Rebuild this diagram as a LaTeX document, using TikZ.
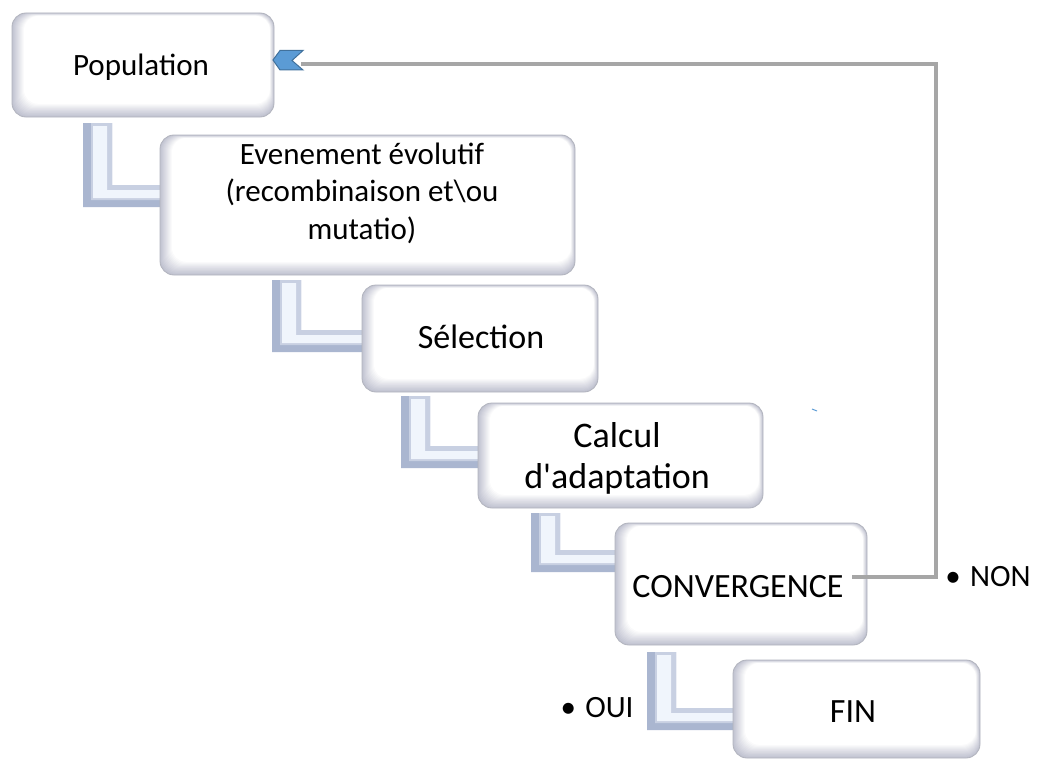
\documentclass[tikz,border=0pt]{standalone}
\usepackage{fontspec}
\setmainfont{Carlito}
\definecolor{boxedge}{RGB}{192,194,208}
\definecolor{boxline}{RGB}{178,180,190}
\definecolor{ldark}{RGB}{170,182,208}
\definecolor{lmid}{RGB}{200,208,226}
\definecolor{lface}{RGB}{240,245,252}
\definecolor{fbgray}{RGB}{166,166,166}
\definecolor{chevfill}{RGB}{91,155,213}
\definecolor{chevdraw}{RGB}{65,113,156}

% soft bevelled rounded box: x1 y1 x2 y2
\newcommand\bevelbox[4]{%
  \foreach \k in {0,...,12}{%
    \pgfmathsetmacro\mix{100*\k/12}%
    \fill[white!\mix!boxedge, rounded corners=14pt]
      (#1+1.0*\k,#2+0.25*\k) rectangle (#3-0.35*\k,#4-1.1*\k);
  }%
  \draw[boxline, line width=0.8pt, rounded corners=14pt] (#1,#2) rectangle (#3,#4);
}
% bevelled L-shaped step connector: x top bottom xend
\newcommand\stepconn[4]{%
  \fill[ldark] (#1,#2) -- (#1+29,#2) -- (#1+29,#3-22) -- (#4,#3-22) -- (#4,#3) -- (#1,#3) -- cycle;
  \fill[lmid] (#1+8,#2) -- (#1+29,#2) -- (#1+29,#3-22) -- (#4,#3-22) -- (#4,#3-7) -- (#1+8,#3-7) -- cycle;
  \fill[lface] (#1+10,#2+3) -- (#1+24,#2+3) -- (#1+24,#3-17) -- (#4,#3-17) -- (#4,#3-9) -- (#1+10,#3-9) -- cycle;
}

\tikzset{
  lbl/.style={inner sep=0pt, text=black, align=center},
  fbline/.style={fbgray, line width=4pt},
}

\begin{document}
\begin{tikzpicture}[x=1pt,y=-1pt]
\useasboundingbox (0,0) rectangle (1037,760);
\fill[white] (0,0) rectangle (1037,760);

% step connectors
\stepconn{83}{123}{207}{162}
\stepconn{272}{280}{352}{364}
\stepconn{401}{396}{468}{480}
\stepconn{531}{513}{572}{617}
\stepconn{647}{652}{730}{735}

% boxes
\bevelbox{12}{13}{274}{117}
\bevelbox{160}{135}{575}{275}
\bevelbox{362}{285}{598}{392}
\bevelbox{478}{403}{763}{508}
\bevelbox{615}{523}{867}{645}
\bevelbox{733}{660}{980}{758}

% labels
\node[lbl, anchor=base, font={\fontsize{31}{37.5}\selectfont}] (pop) at (141,76) {Population};
\node[lbl, font={\fontsize{31}{37.5}\selectfont}] (evo) at (362,193) {Evenement évolutif\\(recombinaison et\textbackslash ou\\mutatio)};
\node[lbl, anchor=base, font={\fontsize{34}{40}\selectfont}] (sel) at (481,348) {Sélection};
\node[lbl, font={\fontsize{36}{41}\selectfont}] (calc) at (617,458) {Calcul\\d\textquotesingle adaptation};
\node[lbl, anchor=base, font={\fontsize{34}{40}\selectfont}] (conv) at (738,597) {CONVERGENCE};
\node[lbl, anchor=base, font={\fontsize{34}{40}\selectfont}] (fin) at (853,722) {FIN};
\node[lbl, anchor=base, font={\fontsize{31}{37}\selectfont}] (oui) at (597,717) {•\hspace{0.3em}OUI};
\node[lbl, anchor=base, font={\fontsize{31}{37}\selectfont}] (non) at (988,586) {•\hspace{0.3em}NON};

% feedback loop back to the population
\coordinate (nonstart) at (852,577);
\coordinate (chevtip) at (273,60);
\coordinate (chevback) at (301,64);
\draw[fbline] (nonstart) -- (936,577) |- (chevback);
\filldraw[fill=chevfill, draw=chevdraw, line width=1pt]
  (chevtip) -- ++(7,-9.5) -- ++(23,0) -- ++(-11,10) -- ++(11,9.5) -- ++(-23,0) -- cycle;

% small stray stroke
\draw[chevfill, line width=1pt] (812,409) -- (817,411);
\end{tikzpicture}
\end{document}
